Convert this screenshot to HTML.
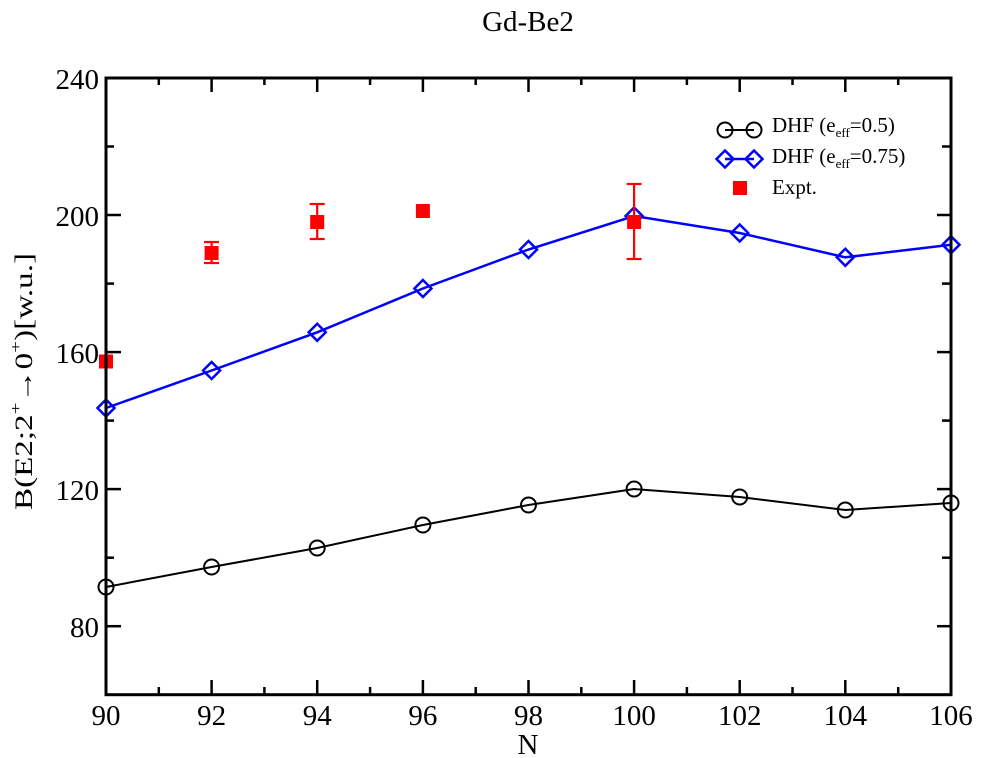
<!DOCTYPE html>
<html><head><meta charset="utf-8"><style>
html,body{margin:0;padding:0;background:#fff;}
svg{display:block;}
text{font-family:"Liberation Serif","DejaVu Serif",serif;fill:#000;}
</style></head><body>
<svg width="982" height="758" viewBox="0 0 982 758" xmlns="http://www.w3.org/2000/svg">
<rect width="982" height="758" fill="#fff"/>
<!-- title -->
<text x="528" y="31" font-size="29" text-anchor="middle">Gd-Be2</text>

<!-- ticks -->
<g stroke="#000" stroke-width="2.5">
  <!-- left y ticks -->
  <line x1="106" y1="78" x2="121" y2="78"/>
  <line x1="106" y1="146.5" x2="114" y2="146.5"/>
  <line x1="106" y1="215" x2="121" y2="215"/>
  <line x1="106" y1="283.6" x2="114" y2="283.6"/>
  <line x1="106" y1="352.1" x2="121" y2="352.1"/>
  <line x1="106" y1="420.6" x2="114" y2="420.6"/>
  <line x1="106" y1="489.1" x2="121" y2="489.1"/>
  <line x1="106" y1="557.7" x2="114" y2="557.7"/>
  <line x1="106" y1="626.2" x2="121" y2="626.2"/>
  <!-- right y ticks -->
  <line x1="951" y1="146.5" x2="942" y2="146.5"/>
  <line x1="951" y1="215" x2="937" y2="215"/>
  <line x1="951" y1="283.6" x2="942" y2="283.6"/>
  <line x1="951" y1="352.1" x2="937" y2="352.1"/>
  <line x1="951" y1="420.6" x2="942" y2="420.6"/>
  <line x1="951" y1="489.1" x2="937" y2="489.1"/>
  <line x1="951" y1="557.7" x2="942" y2="557.7"/>
  <line x1="951" y1="626.2" x2="937" y2="626.2"/>
  <!-- bottom x ticks -->
  <line x1="158.8" y1="694.7" x2="158.8" y2="687"/>
  <line x1="211.6" y1="694.7" x2="211.6" y2="680"/>
  <line x1="264.4" y1="694.7" x2="264.4" y2="687"/>
  <line x1="317.2" y1="694.7" x2="317.2" y2="680"/>
  <line x1="370.1" y1="694.7" x2="370.1" y2="687"/>
  <line x1="422.9" y1="694.7" x2="422.9" y2="680"/>
  <line x1="475.7" y1="694.7" x2="475.7" y2="687"/>
  <line x1="528.5" y1="694.7" x2="528.5" y2="680"/>
  <line x1="581.3" y1="694.7" x2="581.3" y2="687"/>
  <line x1="634.1" y1="694.7" x2="634.1" y2="680"/>
  <line x1="686.9" y1="694.7" x2="686.9" y2="687"/>
  <line x1="739.7" y1="694.7" x2="739.7" y2="680"/>
  <line x1="792.5" y1="694.7" x2="792.5" y2="687"/>
  <line x1="845.3" y1="694.7" x2="845.3" y2="680"/>
  <line x1="898.2" y1="694.7" x2="898.2" y2="687"/>
  <!-- top x ticks -->
  <line x1="158.8" y1="78" x2="158.8" y2="85"/>
  <line x1="211.6" y1="78" x2="211.6" y2="92"/>
  <line x1="264.4" y1="78" x2="264.4" y2="85"/>
  <line x1="317.2" y1="78" x2="317.2" y2="92"/>
  <line x1="370.1" y1="78" x2="370.1" y2="85"/>
  <line x1="422.9" y1="78" x2="422.9" y2="92"/>
  <line x1="475.7" y1="78" x2="475.7" y2="85"/>
  <line x1="528.5" y1="78" x2="528.5" y2="92"/>
  <line x1="581.3" y1="78" x2="581.3" y2="85"/>
  <line x1="634.1" y1="78" x2="634.1" y2="92"/>
  <line x1="686.9" y1="78" x2="686.9" y2="85"/>
  <line x1="739.7" y1="78" x2="739.7" y2="92"/>
  <line x1="792.5" y1="78" x2="792.5" y2="85"/>
  <line x1="845.3" y1="78" x2="845.3" y2="92"/>
  <line x1="898.2" y1="78" x2="898.2" y2="85"/>
</g>

<!-- y tick labels -->
<g font-size="29" text-anchor="end">
  <text x="99" y="89">240</text>
  <text x="99" y="226">200</text>
  <text x="99" y="363">160</text>
  <text x="99" y="500">120</text>
  <text x="99" y="637">80</text>
</g>
<!-- x tick labels -->
<g font-size="29" text-anchor="middle">
  <text x="106" y="725">90</text>
  <text x="211.6" y="725">92</text>
  <text x="317.2" y="725">94</text>
  <text x="422.9" y="725">96</text>
  <text x="528.5" y="725">98</text>
  <text x="634.1" y="725">100</text>
  <text x="739.7" y="725">102</text>
  <text x="845.3" y="725">104</text>
  <text x="951" y="725">106</text>
</g>
<text x="528" y="754" font-size="29" text-anchor="middle">N</text>

<!-- y axis label -->
<text transform="translate(32,510) rotate(-90)" font-size="25" textLength="257" lengthAdjust="spacingAndGlyphs">B(E2;2<tspan dy="-11" font-size="16">+</tspan><tspan dy="11">→0</tspan><tspan dy="-11" font-size="16">+</tspan><tspan dy="11">)[w.u.]</tspan></text>

<!-- black series -->
<polyline fill="none" stroke="#000" stroke-width="2" points="106,587 211.6,567 317.2,548 422.9,525 528.5,505 634.1,489 739.7,497 845.3,510 951,503"/>
<g fill="none" stroke="#000" stroke-width="2">
  <circle cx="106" cy="587" r="7.5"/>
  <circle cx="211.6" cy="567" r="7.5"/>
  <circle cx="317.2" cy="548" r="7.5"/>
  <circle cx="422.9" cy="525" r="7.5"/>
  <circle cx="528.5" cy="505" r="7.5"/>
  <circle cx="634.1" cy="489" r="7.5"/>
  <circle cx="739.7" cy="497" r="7.5"/>
  <circle cx="845.3" cy="510" r="7.5"/>
  <circle cx="951" cy="503" r="7.5"/>
</g>

<!-- blue series -->
<polyline fill="none" stroke="#0000ff" stroke-width="2.5" points="106,408 211.6,370.5 317.2,332.3 422.9,288.5 528.5,249.5 634.1,216 739.7,233 845.3,257.3 951,244.7"/>
<g fill="none" stroke="#0000ff" stroke-width="2.5">
  <polygon points="106,399.5 114.5,408 106,416.5 97.5,408"/>
  <polygon points="211.6,362 220.1,370.5 211.6,379 203.1,370.5"/>
  <polygon points="317.2,323.8 325.7,332.3 317.2,340.8 308.7,332.3"/>
  <polygon points="422.9,280 431.4,288.5 422.9,297 414.4,288.5"/>
  <polygon points="528.5,241 537,249.5 528.5,258 520,249.5"/>
  <polygon points="634.1,207.5 642.6,216 634.1,224.5 625.6,216"/>
  <polygon points="739.7,224.5 748.2,233 739.7,241.5 731.2,233"/>
  <polygon points="845.3,248.8 853.8,257.3 845.3,265.8 836.8,257.3"/>
  <polygon points="951,236.2 959.5,244.7 951,253.2 942.5,244.7"/>
</g>

<!-- expt -->
<g stroke="#ff0000" stroke-width="2.2" fill="none">
  <line x1="211.6" y1="242" x2="211.6" y2="263"/>
  <line x1="204" y1="242" x2="219" y2="242"/>
  <line x1="204" y1="263" x2="219" y2="263"/>
  <line x1="317.2" y1="204" x2="317.2" y2="239"/>
  <line x1="309.7" y1="204" x2="324.7" y2="204"/>
  <line x1="309.7" y1="239" x2="324.7" y2="239"/>
  <line x1="634.1" y1="184" x2="634.1" y2="259"/>
  <line x1="626.6" y1="184" x2="641.6" y2="184"/>
  <line x1="626.6" y1="259" x2="641.6" y2="259"/>
</g>
<g fill="#ff0000">
  <rect x="99" y="354.5" width="14" height="14"/>
  <rect x="204.6" y="246" width="14" height="14"/>
  <rect x="310.2" y="215" width="14" height="14"/>
  <rect x="415.9" y="204" width="14" height="14"/>
  <rect x="627.1" y="215" width="14" height="14"/>
</g>

<!-- frame -->
<rect x="106" y="78" width="845" height="616.7" fill="none" stroke="#000" stroke-width="3"/>

<!-- legend -->
<line x1="725" y1="130" x2="754" y2="130" stroke="#000" stroke-width="2"/>
<circle cx="725" cy="130" r="7.5" fill="none" stroke="#000" stroke-width="2"/>
<circle cx="754" cy="130" r="7.5" fill="none" stroke="#000" stroke-width="2"/>
<line x1="725" y1="159" x2="754" y2="159" stroke="#0000ff" stroke-width="2.5"/>
<polygon points="725,150.5 733.5,159 725,167.5 716.5,159" fill="none" stroke="#0000ff" stroke-width="2.5"/>
<polygon points="754,150.5 762.5,159 754,167.5 745.5,159" fill="none" stroke="#0000ff" stroke-width="2.5"/>
<rect x="733" y="181" width="14" height="14" fill="#ff0000"/>
<g font-size="21">
  <text x="772" y="132">DHF (e<tspan font-size="13" dy="5">eff</tspan><tspan dy="-5">=0.5)</tspan></text>
  <text x="772" y="163">DHF (e<tspan font-size="13" dy="5">eff</tspan><tspan dy="-5">=0.75)</tspan></text>
  <text x="772" y="194">Expt.</text>
</g>
</svg>
</body></html>
